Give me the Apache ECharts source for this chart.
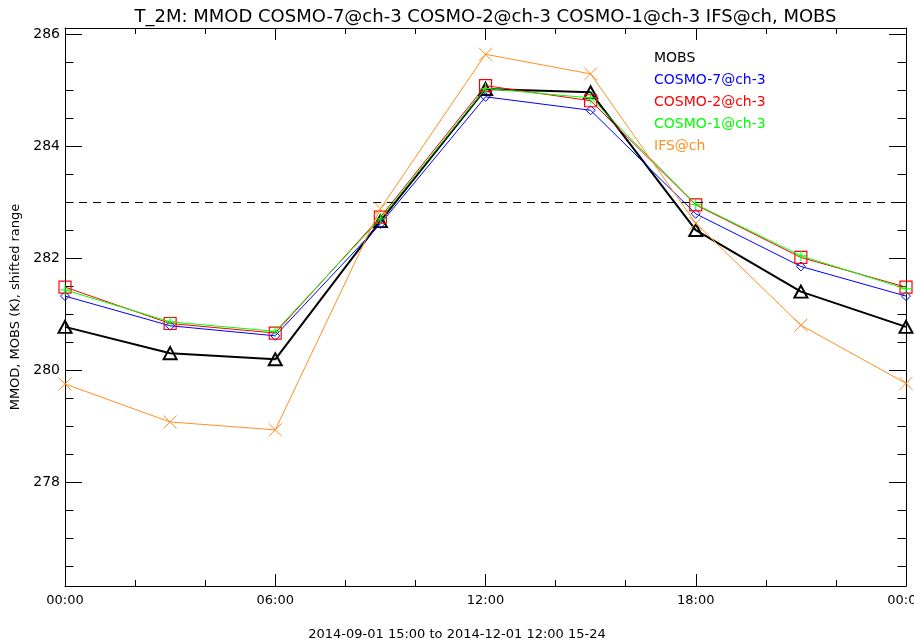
<!DOCTYPE html>
<html>
<head>
<meta charset="utf-8">
<script src="https://cdn.jsdelivr.net/npm/echarts@6/dist/echarts.min.js"></script>
<style>html,body{margin:0;padding:0;background:#fff}#c{width:914px;height:644px}</style>
</head>
<body>
<div id="c"></div>
<script>
// ---- data ----
const titleText = 'T_2M: MMOD COSMO-7@ch-3 COSMO-2@ch-3 COSMO-1@ch-3 IFS@ch, MOBS';
const subText = '2014-09-01 15:00 to 2014-12-01 12:00 15-24';
const yName = 'MMOD, MOBS (K), shifted range';
const hours = [0, 3, 6, 9, 12, 15, 18, 21, 24];
const seriesNames = ['MOBS', 'COSMO-7@ch-3', 'COSMO-2@ch-3', 'COSMO-1@ch-3', 'IFS@ch'];
const mobs   = [280.77, 280.30, 280.19, 282.66, 285.02, 284.96, 282.50, 281.40, 280.77];
const cosmo7 = [281.32, 280.79, 280.61, 282.61, 284.88, 284.64, 282.79, 281.85, 281.32];
const cosmo2 = [281.48, 280.83, 280.66, 282.73, 285.08, 284.81, 282.95, 282.01, 281.48];
const cosmo1 = [281.43, 280.86, 280.69, 282.70, 285.03, 284.86, 282.96, 282.04, 281.45];
const ifs    = [279.75, 279.07, 278.93, 282.88, 285.64, 285.29, 282.62, 280.80, 279.76];
const refLine = 283;
const xMajor = [0, 6, 12, 18, 24];
const xMinor = [2, 4, 8, 10, 14, 16, 20, 22];
const xLabels = ['00:00', '06:00', '12:00', '18:00', '00:00'];
const yMajor = [278, 280, 282, 284, 286];
const yMinor = [276.5, 277, 277.5, 278.5, 279, 279.5, 280.5, 281, 281.5, 282.5, 283, 283.5, 284.5, 285, 285.5];
const yMin = 276.14, yMax = 286.11;

// ---- styles ----
const FONT = 'DejaVu Sans';
const colors = ['#000000', '#0000ff', '#ff0000', '#00ff00', '#ff9020'];
const symbols = [
  'path://M5,0L10,9L0,9Z',
  'path://M5,0L10,5L5,10L0,5Z',
  'path://M0,0L10,0L10,10L0,10Z',
  'path://M0,5L10,5M5,0L5,10',
  'path://M0,0L10,10M10,0L0,10'];
const symbolSizes = [[13, 12], 9, 12, 11, 13];
const lineWidths = [2, 1, 1, 1, 1];
const symbolStroke = [2, 1, 1.2, 1, 1];
const allValues = [mobs, cosmo7, cosmo2, cosmo1, ifs];
const GRID = {left: 65, right: 8, top: 28, bottom: 58};

function xAx(pos, ticks, len, showLine, showLabel) {
  return {
    type: 'value', position: pos, min: 0, max: 24,
    axisLine: {show: showLine, onZero: false, lineStyle: {color: '#000', width: 1}},
    axisTick: {show: true, inside: true, length: len, customValues: ticks, lineStyle: {color: '#000'}},
    axisLabel: showLabel ? {
      show: true, customValues: xMajor, margin: 8, color: '#000', fontFamily: FONT, fontSize: 13,
      hideOverlap: false,
      formatter: v => xLabels[xMajor.indexOf(Math.round(v))] || ''
    } : {show: false},
    splitLine: {show: false}
  };
}
function yAx(pos, ticks, len, showLine, showLabel) {
  const a = {
    type: 'value', position: pos, min: yMin, max: yMax,
    axisLine: {show: showLine, onZero: false, lineStyle: {color: '#000', width: 1}},
    axisTick: {show: true, inside: true, length: len, customValues: ticks, lineStyle: {color: '#000'}},
    axisLabel: showLabel ? {
      show: true, customValues: yMajor, margin: 5, color: '#000', fontFamily: FONT, fontSize: 14,
      formatter: v => String(Math.round(v))
    } : {show: false},
    splitLine: {show: false}
  };
  if (showLabel) {
    a.name = yName; a.nameLocation = 'middle'; a.nameGap = 38;
    a.nameTextStyle = {color: '#000', fontFamily: FONT, fontSize: 13};
  }
  return a;
}

const series = seriesNames.map((n, i) => ({
  name: n, type: 'line', xAxisIndex: 0, yAxisIndex: 0,
  data: hours.map((h, k) => [h, allValues[i][k]]),
  symbol: symbols[i], symbolSize: symbolSizes[i], showAllSymbol: true,
  lineStyle: {color: colors[i], width: lineWidths[i]},
  itemStyle: {color: 'rgba(0,0,0,0)', borderColor: colors[i], borderWidth: symbolStroke[i]},
  emphasis: {disabled: true}, animation: false, z: 2 + i
}));
series[0].markLine = {
  silent: true, symbol: ['none', 'none'], animation: false,
  label: {show: false},
  lineStyle: {color: '#000', width: 1, type: [8, 6]},
  data: [{yAxis: refLine}]
};

const plotCenterX = GRID.left + (914 - GRID.left - GRID.right) / 2;

const chart = echarts.init(document.getElementById('c'), null, {renderer: 'canvas'});
chart.setOption({
  backgroundColor: '#fff',
  animation: false,
  title: [
    {text: subText, left: 'center', top: 623,
     textStyle: {color: '#000', fontFamily: FONT, fontSize: 13, fontWeight: 'normal'}}
  ],
  graphic: [
    {type: 'text', x: plotCenterX, y: 17, silent: true,
     style: {text: titleText, fill: '#000', font: '18px "DejaVu Sans"', textAlign: 'center', textVerticalAlign: 'middle'}}
  ],
  legend: {
    orient: 'vertical', left: 643, top: 45, itemWidth: 0, itemHeight: 0, itemGap: 6,
    selectedMode: false,
    textStyle: {fontFamily: FONT, fontSize: 14, lineHeight: 16},
    data: seriesNames.map((n, i) => ({name: n, icon: 'rect', textStyle: {color: colors[i]}}))
  },
  grid: Object.assign({containLabel: false, outerBoundsMode: 'none'}, GRID),
  xAxis: [
    xAx('bottom', xMajor, 12, true, true),
    xAx('bottom', xMinor, 6, false, false),
    xAx('top', xMajor, 12, true, false),
    xAx('top', xMinor, 6, false, false)
  ],
  yAxis: [
    yAx('left', yMajor, 17, true, true),
    yAx('left', yMinor, 8.5, false, false),
    yAx('right', yMajor, 17, true, false),
    yAx('right', yMinor, 8.5, false, false)
  ],
  series: series
});
</script>
</body>
</html>
